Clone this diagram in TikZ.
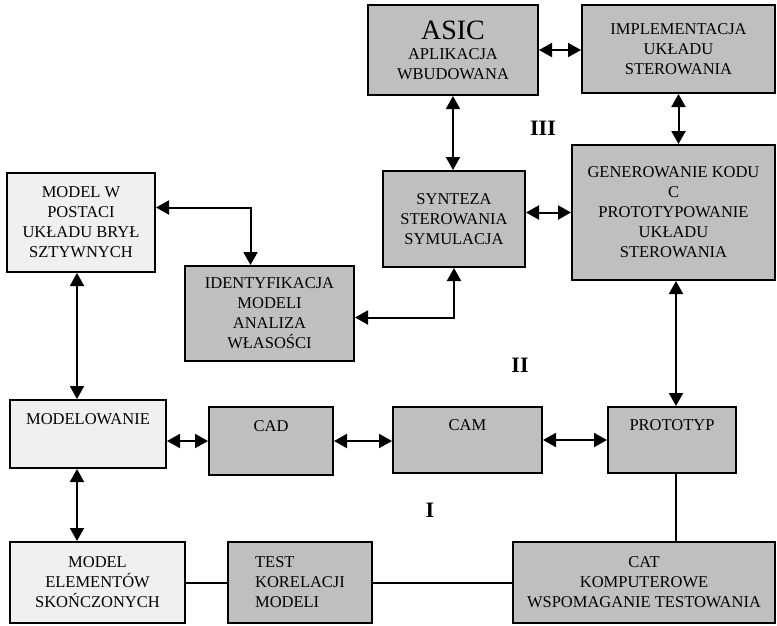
\documentclass[tikz,border=0pt]{standalone}
\usepackage{fontspec}
\setmainfont{Liberation Serif}
\usetikzlibrary{arrows.meta}

\begin{document}
\begin{tikzpicture}[x=1pt, y=-1pt,
	blok/.style={draw, line width=2pt, fill=gray!50, align=center, inner sep=2pt, font=\fontsize{16.5}{20}\selectfont},
	jasny/.style={blok, fill=gray!12},
	gora/.style={text depth=30pt},
	strz/.style={line width=2pt, {Triangle[length=13pt,width=14pt]}-{Triangle[length=13pt,width=14pt]}},
	linia/.style={line width=2pt},
	etap/.style={font=\fontsize{22}{24}\selectfont\bfseries}]
	\useasboundingbox (0,0) rectangle (777,625);
	\coordinate (lx) at (77,0);
	\coordinate (px) at (676,0);
	% poziom III
	\node[blok, minimum width=170pt, minimum height=90pt] (asic) at (453,50) {{\fontsize{28}{28}\selectfont ASIC}\\APLIKACJA\\WBUDOWANA};
	\node[blok, minimum width=193pt, minimum height=88pt] (impl) at (678.5,49) {IMPLEMENTACJA\\UKŁADU\\STEROWANIA};
	\node[blok, minimum width=203pt, minimum height=135pt] (gen) at (673.5,212.5) {GENEROWANIE KODU\\C\\PROTOTYPOWANIE\\UKŁADU\\STEROWANIA};
	\node[blok, minimum width=142pt, minimum height=96pt] (synt) at (454,219) {SYNTEZA\\STEROWANIA\\SYMULACJA};
	% poziom II
	\node[jasny, minimum width=148pt, minimum height=99pt] (mbs) at (81,222.5) {MODEL W\\POSTACI\\UKŁADU BRYŁ\\SZTYWNYCH};
	\node[blok, minimum width=169pt, minimum height=95pt] (ident) at (269.5,313.5) {IDENTYFIKACJA\\MODELI\\ANALIZA\\WŁASOŚCI};
	% poziom I
	\node[jasny, gora, minimum width=156pt, minimum height=68pt] (model) at (88,434) {MODELOWANIE};
	\node[blok, gora, minimum width=124pt, minimum height=68pt] (cad) at (271,441) {CAD};
	\node[blok, gora, minimum width=149pt, minimum height=66pt] (cam) at (467.5,440) {CAM};
	\node[blok, gora, minimum width=128pt, minimum height=66pt] (proto) at (672,440) {PROTOTYP};
	\node[jasny, minimum width=175pt, minimum height=81pt] (mes) at (97.5,582.5) {MODEL\\ELEMENTÓW\\SKOŃCZONYCH};
	\node[blok, align=left, minimum width=144pt, minimum height=81pt] (test) at (300,582.5) {TEST\\KORELACJI\\MODELI};
	\node[blok, minimum width=262pt, minimum height=81pt] (cat) at (644,582.5) {CAT\\KOMPUTEROWE\\WSPOMAGANIE TESTOWANIA};
	% etapy
	\node[etap] (l3) at (543,128) {III};
	\node[etap] (l2) at (520,365) {II};
	\node[etap] (l1) at (430,510) {I};
	% polaczenia
	\draw[strz] (asic.east) -- (asic.east -| impl.west);
	\draw[strz] (asic.south) -- (asic.south |- synt.north);
	\draw[strz] (impl.south) -- (impl.south |- gen.north);
	\draw[strz] (synt.east |- gen.west) -- (gen.west);
	\draw[strz] ([yshift=15pt]mbs.east) -| ([xshift=-19pt]ident.north);
	\draw[strz] ([yshift=-4pt]ident.east) -| (synt.south);
	\draw[strz] (mbs.south -| lx) -- (model.north -| lx);
	\draw[strz] (model.south -| lx) -- (mes.north -| lx);
	\draw[strz] (model.east |- cad.west) -- (cad.west);
	\draw[strz] (cad.east) -- (cad.east -| cam.west);
	\draw[strz] (cam.east) -- (cam.east -| proto.west);
	\draw[strz] (gen.south -| px) -- (proto.north -| px);
	\draw[linia] (proto.south -| px) -- (cat.north -| px);
	\draw[linia] (mes.east) -- (test.west);
	\draw[linia] (test.east) -- (cat.west);
\end{tikzpicture}
\end{document}
